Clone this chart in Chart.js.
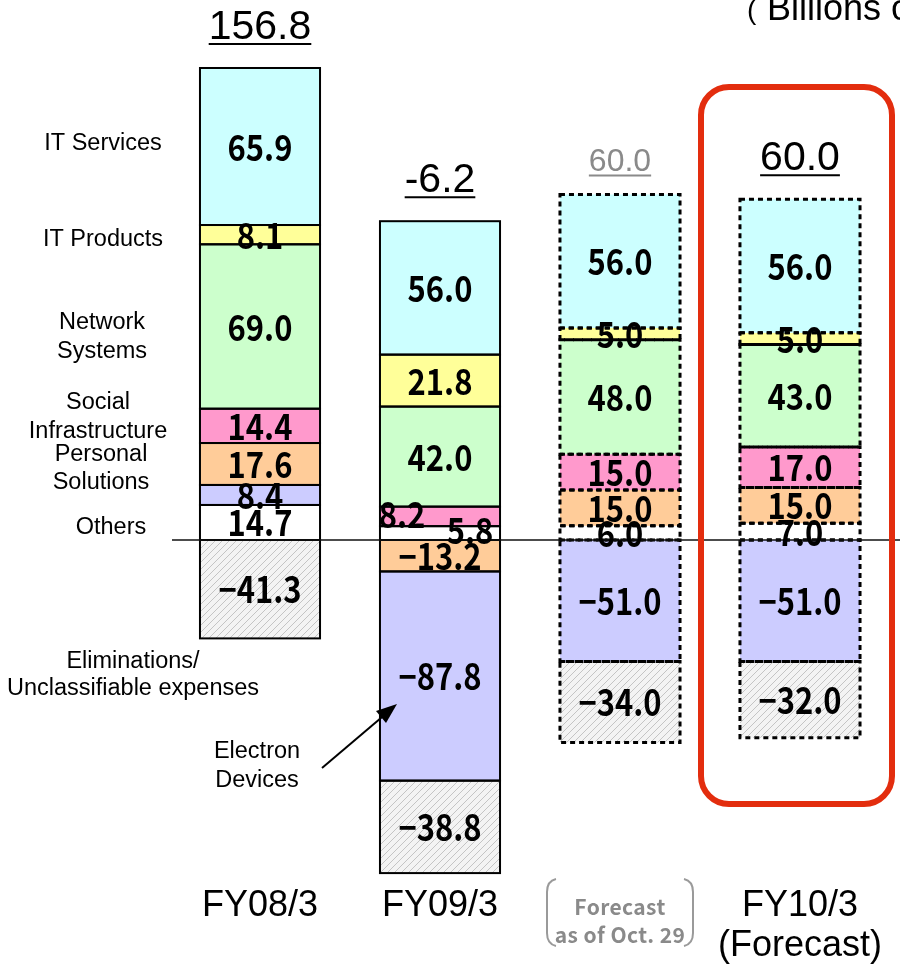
<!DOCTYPE html>
<html>
<head>
<meta charset="utf-8">
<script src="https://cdn.jsdelivr.net/npm/chart.js@4.4.1/dist/chart.umd.min.js"></script>
<style>
  html, body { margin: 0; padding: 0; background: #fff; }
  canvas { display: block; }
</style>
</head>
<body>
<canvas id="chart" width="900" height="971"></canvas>
<script>
// Operating income by segment (billions of yen)
const categories = ['FY08/3', 'FY09/3', 'Forecast as of Oct. 29', 'FY10/3 (Forecast)'];
const itServices        = [65.9, 56.0, 56.0, 56.0];
const itProducts        = [8.1, 21.8, 5.0, 5.0];
const networkSystems    = [69.0, 42.0, 48.0, 43.0];
const socialInfra       = [14.4, 8.2, 15.0, 17.0];
const personalSolutions = [17.6, -13.2, 15.0, 15.0];
const electronDevices   = [8.4, -87.8, -51.0, -51.0];
const others            = [14.7, 5.8, 6.0, 7.0];
const eliminations      = [-41.3, -38.8, -34.0, -32.0];
const totals            = [156.8, -6.2, 60.0, 60.0];

// Hatched fill for eliminations
function hatchPattern() {
  const c = document.createElement('canvas');
  c.width = 7; c.height = 7;
  const g = c.getContext('2d');
  g.fillStyle = '#f3f3f3';
  g.fillRect(0, 0, 7, 7);
  g.strokeStyle = '#c4c4c4';
  g.lineWidth = 1;
  g.beginPath();
  g.moveTo(-1, 8); g.lineTo(8, -1);
  g.moveTo(-1, 1); g.lineTo(1, -1);
  g.moveTo(6, 8); g.lineTo(8, 6);
  g.stroke();
  return document.getElementById('chart').getContext('2d').createPattern(c, 'repeat');
}

const series = [
  { label: 'IT Services',            values: itServices,        color: '#ccffff' },
  { label: 'IT Products',            values: itProducts,        color: '#ffff99' },
  { label: 'Network Systems',        values: networkSystems,    color: '#ccffcc' },
  { label: 'Social Infrastructure',  values: socialInfra,       color: '#ff99cc' },
  { label: 'Personal Solutions',     values: personalSolutions, color: '#ffcc99' },
  { label: 'Electron Devices',       values: electronDevices,   color: '#ccccff' },
  { label: 'Others',                 values: others,            color: '#ffffff' },
  { label: 'Eliminations/Unclassifiable expenses', values: eliminations, color: hatchPattern() }
];

// Stacking order away from zero: profits upward, losses downward
const upOrder   = [others, electronDevices, personalSolutions, socialInfra, networkSystems, itProducts, itServices];
const downOrder = [personalSolutions, electronDevices, others, eliminations];

const ranges = new Map(series.map(s => [s.values, categories.map(() => null)]));
categories.forEach((_, i) => {
  let up = 0, down = 0;
  upOrder.forEach(arr => {
    const v = arr[i];
    if (v > 0) { ranges.get(arr)[i] = [up, up + v]; up += v; }
  });
  downOrder.forEach(arr => {
    const v = arr[i];
    if (v < 0) { ranges.get(arr)[i] = [down + v, down]; down += v; }
  });
});

const FORECAST_FROM = 2;

const datasets = series.map(s => ({
  label: s.label,
  values: s.values,
  data: ranges.get(s.values),
  backgroundColor: s.color,
  borderWidth: 0,
  grouped: false,
  categoryPercentage: 1,
  barPercentage: 0.667
}));

const fmtValue = v => (v < 0 ? '\u2212' : '') + Math.abs(v).toFixed(1);
const SANS = 'Arial, "Liberation Sans", sans-serif';
const GOTHIC = '"Noto Sans CJK JP", "Noto Sans", sans-serif';

// small nudges for crowded value labels: [datasetLabel, index, dx, dy]
const labelNudges = [
  ['Social Infrastructure', 1, -38, -2],
  ['Others', 1, 30, -3]
];

const overlay = {
  id: 'overlay',
  afterDatasetsDraw(chart) {
    const ctx = chart.ctx;
    const xs = chart.scales.x, ys = chart.scales.y;
    const zeroY = ys.getPixelForValue(0);

    // segment outlines: solid for results, dashed for forecasts
    ctx.save();
    ctx.strokeStyle = '#000';
    chart.data.datasets.forEach((ds, di) => {
      const meta = chart.getDatasetMeta(di);
      meta.data.forEach((el, i) => {
        if (ds.data[i] == null) return;
        const top = Math.min(el.y, el.base), bot = Math.max(el.y, el.base);
        if (i >= FORECAST_FROM) {
          ctx.lineWidth = 3;
          ctx.setLineDash([5, 4]);
        } else {
          ctx.lineWidth = 2;
          ctx.setLineDash([]);
        }
        ctx.strokeRect(el.x - el.width / 2, top, el.width, bot - top);
      });
    });
    ctx.restore();

    // zero line
    ctx.save();
    ctx.strokeStyle = '#111';
    ctx.lineWidth = 1.5;
    ctx.beginPath();
    ctx.moveTo(172, zeroY);
    ctx.lineTo(900, zeroY);
    ctx.stroke();
    ctx.restore();

    // values inside segments (slightly condensed gothic)
    ctx.save();
    ctx.fillStyle = '#000';
    ctx.font = 'bold 36px ' + GOTHIC;
    ctx.textAlign = 'center';
    ctx.textBaseline = 'alphabetic';
    chart.data.datasets.forEach((ds, di) => {
      const meta = chart.getDatasetMeta(di);
      meta.data.forEach((el, i) => {
        if (ds.data[i] == null) return;
        let x = el.x, y = (el.y + el.base) / 2;
        labelNudges.forEach(n => {
          if (n[0] === ds.label && n[1] === i) { x += n[2]; y += n[3]; }
        });
        ctx.save();
        ctx.translate(x, y + 14);
        ctx.scale(0.86, 1);
        ctx.fillText(fmtValue(ds.values[i]), 0, 0);
        ctx.restore();
      });
    });
    ctx.restore();

    // totals above each column, underlined
    ctx.save();
    ctx.textAlign = 'center';
    ctx.textBaseline = 'alphabetic';
    totals.forEach((t, i) => {
      let stackTop = 0;
      upOrder.forEach(arr => { if (arr[i] > 0) stackTop += arr[i]; });
      const x = xs.getPixelForValue(i);
      const topPx = ys.getPixelForValue(stackTop);
      const faded = i === 2;
      const size = faded ? 32 : 41;
      ctx.font = size + 'px ' + SANS;
      ctx.fillStyle = faded ? '#8a8a8a' : '#000';
      ctx.strokeStyle = ctx.fillStyle;
      const txt = t.toFixed(1);
      const base = topPx - (faded ? 24 : 29);
      ctx.fillText(txt, x, base);
      const w = ctx.measureText(txt).width;
      ctx.lineWidth = 2;
      ctx.beginPath();
      ctx.moveTo(x - w / 2, base + 5);
      ctx.lineTo(x + w / 2, base + 5);
      ctx.stroke();
    });
    ctx.restore();

    // segment names on the left
    ctx.save();
    ctx.fillStyle = '#000';
    ctx.font = '23.5px ' + SANS;
    ctx.textAlign = 'center';
    ctx.textBaseline = 'middle';
    [
      ['IT Services', 103, 144],
      ['IT Products', 103, 240],
      ['Network', 102, 323], ['Systems', 102, 352],
      ['Social', 98, 403], ['Infrastructure', 98, 432],
      ['Personal', 101, 455], ['Solutions', 101, 483],
      ['Others', 111, 528],
      ['Eliminations/', 133, 662], ['Unclassifiable expenses', 133, 689],
      ['Electron', 257, 752], ['Devices', 257, 781]
    ].forEach(([t, x, y]) => ctx.fillText(t, x, y));

    // arrow to electron devices
    ctx.strokeStyle = '#000';
    ctx.lineWidth = 2;
    ctx.beginPath();
    ctx.moveTo(322, 768);
    ctx.lineTo(388, 712);
    ctx.stroke();
    ctx.beginPath();
    ctx.moveTo(397, 704);
    ctx.lineTo(376, 711);
    ctx.lineTo(386, 723);
    ctx.closePath();
    ctx.fill();

    // category labels
    ctx.font = '36px ' + SANS;
    ctx.fillText('FY08/3', xs.getPixelForValue(0), 906);
    ctx.fillText('FY09/3', xs.getPixelForValue(1), 906);
    ctx.fillText('FY10/3', xs.getPixelForValue(3), 906);
    ctx.fillText('(Forecast)', xs.getPixelForValue(3), 946);

    // bracketed note for the earlier forecast
    const cx = xs.getPixelForValue(2);
    ctx.fillStyle = '#8a8a8a';
    ctx.font = 'bold 21px ' + GOTHIC;
    ctx.letterSpacing = '0.4px';
    ctx.fillText('Forecast', cx, 907);
    ctx.fillText('as of Oct. 29', cx, 935);
    ctx.letterSpacing = '0px';
    ctx.strokeStyle = '#9a9a9a';
    ctx.lineWidth = 2;
    ctx.beginPath();
    ctx.moveTo(cx - 64, 879);
    ctx.quadraticCurveTo(cx - 73, 881, cx - 73, 892);
    ctx.lineTo(cx - 73, 933);
    ctx.quadraticCurveTo(cx - 73, 944, cx - 64, 946);
    ctx.moveTo(cx + 64, 879);
    ctx.quadraticCurveTo(cx + 73, 881, cx + 73, 892);
    ctx.lineTo(cx + 73, 933);
    ctx.quadraticCurveTo(cx + 73, 944, cx + 64, 946);
    ctx.stroke();

    // unit
    ctx.fillStyle = '#000';
    ctx.textAlign = 'left';
    ctx.textBaseline = 'alphabetic';
    ctx.font = '28px ' + SANS;
    ctx.fillText('(', 747, 19);
    ctx.font = '36px ' + SANS;
    ctx.fillText('Billions of yen)', 767, 19.5);

    // highlight frame around the current forecast
    const fx = xs.getPixelForValue(3);
    ctx.strokeStyle = '#e32d0e';
    ctx.lineWidth = 6;
    ctx.beginPath();
    ctx.roundRect(fx - 99, 87, 191, 717, 28);
    ctx.stroke();
    ctx.restore();
  }
};

new Chart(document.getElementById('chart'), {
  type: 'bar',
  data: { labels: categories, datasets },
  options: {
    responsive: false,
    animation: false,
    devicePixelRatio: 1,
    layout: { padding: { left: 170, right: 10, top: 40, bottom: 91 } },
    plugins: { legend: { display: false }, tooltip: { enabled: false } },
    scales: {
      x: { display: false, stacked: false },
      y: { display: false, min: -142.70, max: 209.85 }
    }
  },
  plugins: [overlay]
});
</script>
</body>
</html>
